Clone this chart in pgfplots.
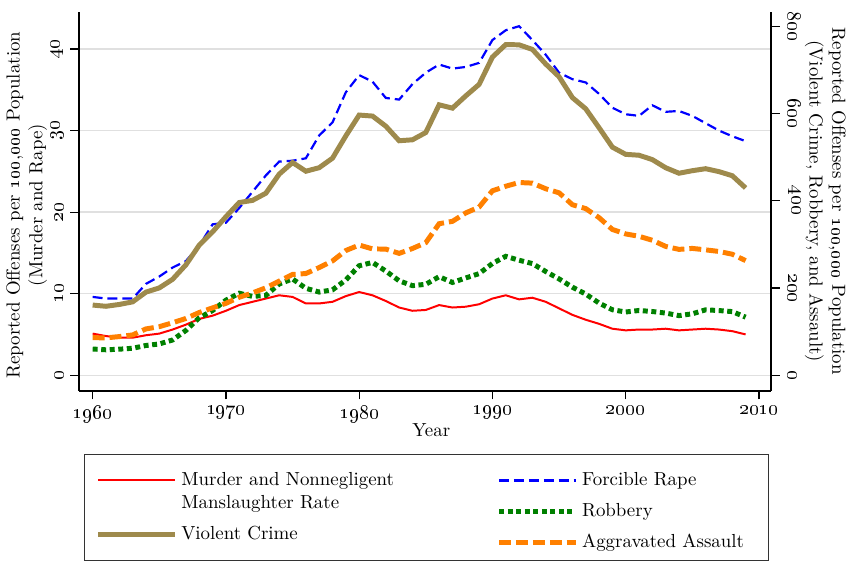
\documentclass[border=0pt]{standalone}
\usepackage{pgfplots}
\pgfplotsset{compat=1.18}
\usepackage{pgfplotstable}
\definecolor{cred}{RGB}{255,0,0}
\definecolor{cblue}{RGB}{0,0,255}
\definecolor{ckhaki}{RGB}{158,138,76}
\definecolor{cgreen}{RGB}{0,128,0}
\definecolor{corange}{RGB}{255,128,0}
\pgfplotstableread{
year murder rape violent robbery assault
1960 5.1 9.6 160.9 60.1 86.1
1961 4.8 9.4 158.1 58.3 85.7
1962 4.6 9.4 162.3 59.7 88.6
1963 4.6 9.4 168.2 61.8 92.4
1964 4.9 11.2 190.6 68.2 106.2
1965 5.1 12.1 200.2 71.7 111.3
1966 5.6 13.2 220.0 80.8 120.3
1967 6.2 14.0 253.2 102.8 130.2
1968 6.9 15.9 298.4 131.8 143.8
1969 7.3 18.5 328.7 148.4 154.5
1970 7.9 18.7 363.5 172.1 164.8
1971 8.6 20.5 396.0 188.0 178.8
1972 9.0 22.5 401.0 180.7 188.8
1973 9.4 24.5 417.4 183.1 200.5
1974 9.8 26.2 461.1 209.3 215.8
1975 9.6 26.3 487.8 220.8 231.1
1976 8.8 26.6 467.8 199.3 233.2
1977 8.8 29.4 475.9 190.7 247.0
1978 9.0 31.0 497.8 195.8 262.1
1979 9.7 34.7 548.9 218.4 286.0
1980 10.2 36.8 596.6 251.1 298.5
1981 9.8 36.0 594.3 258.7 289.7
1982 9.1 34.0 571.1 238.9 289.2
1983 8.3 33.8 537.7 216.5 279.4
1984 7.9 35.7 539.9 205.4 290.6
1985 8.0 37.1 556.6 208.5 304.0
1986 8.6 38.1 620.1 226.0 347.4
1987 8.3 37.6 612.5 212.7 352.9
1988 8.4 37.8 640.6 223.1 372.2
1989 8.7 38.3 666.9 233.0 385.6
1990 9.4 41.1 729.6 256.3 422.9
1991 9.8 42.3 758.2 272.7 433.4
1992 9.3 42.8 757.7 263.7 441.9
1993 9.5 41.1 747.1 256.0 440.5
1994 9.0 39.3 713.6 237.8 427.6
1995 8.2 37.1 684.5 220.9 418.3
1996 7.4 36.3 636.6 201.9 391.0
1997 6.8 35.9 611.0 186.2 382.1
1998 6.3 34.5 567.6 165.5 361.4
1999 5.7 32.8 523.0 150.1 334.3
2000 5.5 32.0 506.5 145.0 324.0
2001 5.6 31.8 504.5 148.5 318.6
2002 5.6 33.1 494.4 146.1 309.5
2003 5.7 32.3 475.8 142.5 295.4
2004 5.5 32.4 463.2 136.7 288.6
2005 5.6 31.8 469.0 140.8 290.8
2006 5.7 30.9 473.6 150.0 287.5
2007 5.6 30.0 466.9 148.3 283.8
2008 5.4 29.3 457.5 145.9 277.5
2009 5.0 28.7 429.4 133.1 262.8
}\crimedata
\begin{document}
\fontsize{9.5}{11.5}\selectfont
\begin{tikzpicture}
\pgfplotsset{
  common/.style={
    scale only axis, width=347.8pt, height=190.2pt,
    xmin=1958.99, xmax=2010.9,
    axis line style={line width=1pt, black},
    tick align=outside, major tick length=4.5pt,
    major tick style={line width=0.6pt, black},
    tick label style={font=\fontsize{10}{12}\selectfont},
    clip=false,
    legend image code/.code={\draw (0pt,0pt) -- (38.5pt,0pt);},
  },
  leg/.style={at={(axis description cs:#1,0)}, anchor=north west, yshift=-39pt,
    draw=none, fill=none, inner sep=0pt,
    legend cell align=left, cells={align=left}},
}
\begin{axis}[common, name=ax1,
  ymin=-1.88, ymax=44.51,
  axis x line*=bottom, axis y line*=left,
  xtick={1960,1970,1980,1990,2000,2010},
  xticklabels={\oldstylenums{1960},\oldstylenums{1970},\oldstylenums{1980},\oldstylenums{1990},\oldstylenums{2000},\oldstylenums{2010}},
  ytick={0,10,20,30,40},
  yticklabels={\oldstylenums{0},\oldstylenums{10},\oldstylenums{20},\oldstylenums{30},\oldstylenums{40}},
  yticklabel style={rotate=90, anchor=south},
  ymajorgrids, grid style={line width=0.7pt, black!12},
  xlabel={Year},
  xlabel style={at={(axis description cs:0.509,-0.106)}, anchor=center},
  ylabel={Reported Offenses per \oldstylenums{100},\oldstylenums{000} Population\\(Murder and Rape)},
  ylabel style={at={(axis description cs:-0.0758,0.49)}, anchor=center, rotate=0, align=center},
  legend style={leg=0.0234, row sep=3.5pt},
]
\addplot[cred, line width=1pt, legend image code/.code={\draw (0pt,5.75pt) -- (38.5pt,5.75pt);}] table[x=year, y=murder] {\crimedata};
\addlegendentry{Murder and Nonnegligent\\Manslaughter Rate}
\addplot[cblue, line width=1.1pt, dash pattern=on 5pt off 2.5pt, forget plot] table[x=year, y=rape] {\crimedata};
\addlegendimage{ckhaki, line width=2.5pt}
\addlegendentry{Violent Crime}
\end{axis}
\begin{axis}[common,
  ymin=-35.1, ymax=832.4,
  axis x line=none, axis y line*=right,
  ytick={0,200,400,600,800},
  yticklabels={\oldstylenums{0},\oldstylenums{200},\oldstylenums{400},\oldstylenums{600},\oldstylenums{800}},
  yticklabel style={rotate=-90, anchor=south},
  yticklabel shift=1pt,
  ylabel={Reported Offenses per \oldstylenums{100},\oldstylenums{000} Population\\(Violent Crime, Robbery, and Assault)},
  ylabel style={at={(axis description cs:1.0785,0.5)}, anchor=center, rotate=180, align=center},
  legend style={leg=0.6028, row sep=3.5pt},
]
\addlegendimage{cblue, line width=1.1pt, dash pattern=on 5pt off 2.5pt}
\addlegendentry{Forcible Rape}
\addplot[ckhaki, line width=2.5pt, forget plot] table[x=year, y=violent] {\crimedata};
\addplot[cgreen, line width=2.5pt, dash pattern=on 2.5pt off 1.8pt] table[x=year, y=robbery] {\crimedata};
\addlegendentry{Robbery}
\addplot[corange, line width=2.5pt, dash pattern=on 6pt off 2.5pt] table[x=year, y=assault] {\crimedata};
\addlegendentry{Aggravated Assault}
\end{axis}
\draw[black!80, line width=0.6pt] ([shift={(2.5pt,-32.3pt)}]ax1.south west) rectangle ([shift={(-1.3pt,-85.65pt)}]ax1.south east);
\path ([shift={(-38.85pt,-86.15pt)}]ax1.south west) rectangle ([shift={(39.35pt,6.15pt)}]ax1.north east);
\end{tikzpicture}
\end{document}
